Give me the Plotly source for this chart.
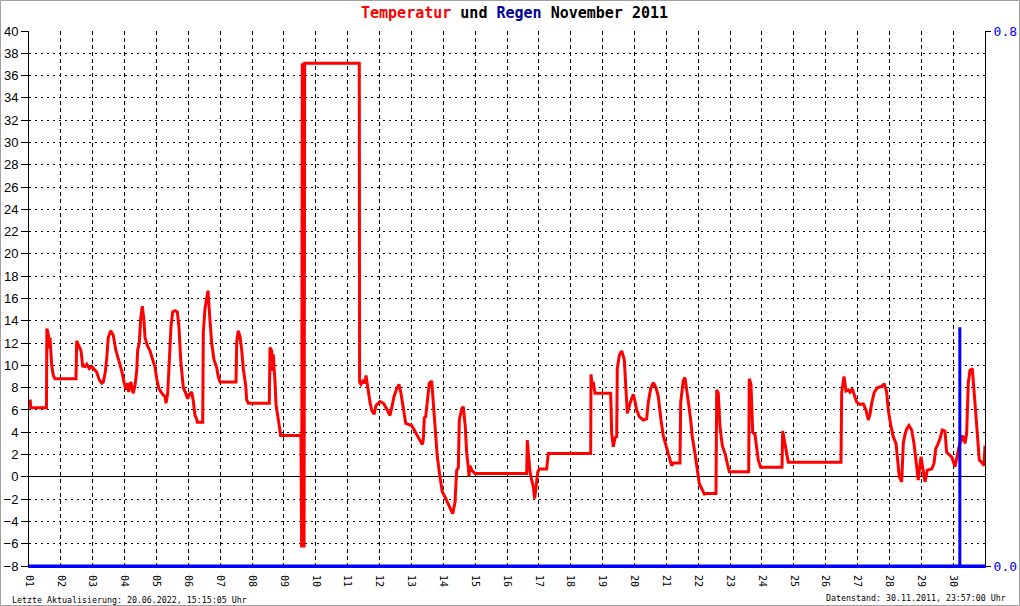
import plotly.graph_objects as go

# ---------------- data ----------------
temp_days = [1.000, 1.040, 1.055, 1.548, 1.560, 1.606, 1.637, 1.659, 1.712, 1.763, 1.816, 2.475, 2.497, 2.569, 2.632,
             2.685, 2.757, 2.811, 2.892, 2.968, 3.049, 3.124, 3.206, 3.281, 3.332, 3.394, 3.438, 3.488, 3.564, 3.645,
             3.721, 3.815, 3.909, 3.981, 4.044, 4.097, 4.129, 4.169, 4.201, 4.242, 4.273, 4.326, 4.380, 4.411, 4.461,
             4.505, 4.555, 4.609, 4.640, 4.712, 4.797, 4.882, 4.954, 5.007, 5.079, 5.183, 5.268, 5.299, 5.352, 5.393,
             5.425, 5.456, 5.509, 5.581, 5.654, 5.707, 5.760, 5.792, 5.842, 5.905, 5.980, 6.030, 6.106, 6.156, 6.209,
             6.262, 6.281, 6.451, 6.470, 6.523, 6.617, 6.680, 6.733, 6.805, 6.890, 6.940, 6.994, 7.496, 7.518, 7.568,
             7.621, 7.675, 7.725, 7.800, 7.831, 7.882, 8.541, 8.563, 8.616, 8.647, 8.666, 8.720, 8.751, 8.804, 8.855,
             8.898, 9.535, 9.556, 9.575, 9.594, 9.613, 9.632, 9.651, 11.365, 11.374, 11.418, 11.481, 11.544, 11.575,
             11.616, 11.647,
             11.701, 11.754, 11.804, 11.836, 11.889, 12.014, 12.118, 12.225, 12.328, 12.382, 12.454, 12.539, 12.611,
             12.673, 12.746, 12.821, 13.009, 13.091, 13.185, 13.270, 13.342, 13.373, 13.405, 13.449, 13.511, 13.562,
             13.637, 13.687, 13.741, 13.813, 13.897, 13.969, 14.054, 14.158, 14.296, 14.368, 14.421, 14.472, 14.503,
             14.578, 14.628, 14.691, 14.735, 14.785, 14.807, 14.839, 14.892, 14.995, 16.618, 16.637, 16.681, 16.721,
             16.775, 16.825, 16.869, 16.910, 16.963, 17.013, 17.246, 17.296, 18.626, 18.636, 18.677, 18.708, 18.761,
             19.254, 19.285, 19.336, 19.389, 19.442, 19.461, 19.524, 19.599, 19.681, 19.725, 19.775, 19.860, 19.963,
             20.016, 20.070, 20.151, 20.277, 20.383, 20.434, 20.509, 20.591, 20.675, 20.748, 20.832, 20.904, 20.989,
             21.093, 21.168, 21.218, 21.428, 21.451, 21.532, 21.585, 21.639, 21.711, 21.764, 21.815, 21.899, 21.971,
             22.034, 22.110, 22.191, 22.266, 22.558, 22.580, 22.630, 22.684, 22.756, 22.841, 22.913, 22.976, 23.584,
             23.603, 23.657, 23.710, 23.782, 23.835, 23.885, 23.961, 24.629, 24.651, 24.702, 24.755, 24.827, 26.481,
             26.503, 26.575, 26.638, 26.710, 26.763, 26.836, 26.898, 26.973, 27.077, 27.181, 27.265, 27.338, 27.391,
             27.444, 27.526, 27.632, 27.758, 27.839, 27.915, 27.965, 28.040, 28.122, 28.207, 28.247, 28.310, 28.386,
             28.436, 28.489, 28.542, 28.614, 28.700, 28.771, 28.834, 28.906, 28.991, 29.044, 29.117, 29.189, 29.327,
             29.399, 29.452, 29.515, 29.587, 29.659, 29.744, 29.797, 29.879, 29.954, 30.058, 30.111, 30.193, 30.300,
             30.372, 30.425, 30.475, 30.529, 30.601, 30.654, 30.708, 30.771, 30.821, 30.896, 30.968, 31.000]

temp_vals = [6.8, 6.8, 6.2, 6.2, 13.3, 12.8, 11.5, 12.5, 10.0, 9.1, 8.8, 8.8, 12.2, 11.7, 11.3,
             9.95, 9.9, 10.1, 9.7, 9.9, 9.6, 9.4, 8.7, 8.4, 8.5, 9.4, 10.6, 12.5, 13.1, 12.7,
             11.4, 10.5, 9.5, 8.5, 7.8, 8.4, 7.6, 8.3, 8.5, 7.8, 7.5, 8.2, 9.5, 11.4, 12.0,
             14.2, 15.3, 14.0, 12.5, 11.8, 11.3, 10.5, 9.85, 8.8, 7.9, 7.45, 7.2, 6.6, 7.5, 9.8,
             12.5, 13.5, 14.8, 14.9, 14.8, 13.4, 10.5, 9.5, 8.0, 7.6, 7.0, 7.4, 7.6, 6.8, 5.5,
             5.2, 4.9, 4.9, 13.0, 15.1, 16.7, 14.0, 12.0, 10.5, 9.8, 9.0, 8.5, 8.5, 12.1, 13.1,
             12.6, 11.35, 9.7, 8.2, 6.9, 6.6, 6.6, 11.6, 11.3, 9.5, 11.0, 8.5, 6.5, 5.5, 4.7,
             3.7, 3.7, -6.35, 37.1, -6.35, 37.1, -6.35, 37.1, 37.1, 8.5, 8.3, 8.6, 8.4, 9.1,
             8.2, 7.5,
             6.7, 6.0, 5.7, 5.7, 6.4, 6.75, 6.6, 6.1, 5.5, 6.2, 7.2, 7.9, 8.3,
             7.5, 6.0, 4.8, 4.6, 4.2, 3.7, 3.3, 2.9, 3.3, 5.3, 5.4, 7.3, 8.4,
             8.6, 6.6, 3.9, 1.8, 0.0, -1.35, -1.8, -2.4, -3.3, -2.3, 0.6, 0.8, 5.1,
             6.1, 6.3, 4.5, 2.1, 0.9, 0.05, 1.0, 0.6, 0.3, 0.3, 3.3, 2.0, 0.45,
             -0.3, -0.9, -1.95, -1.0, 0.4, 0.7, 0.7, 2.1, 2.1, 9.2, 8.0, 8.5, 7.5,
             7.5, 3.9, 2.7, 3.5, 3.6, 9.7, 10.9, 11.3, 10.5, 8.0, 5.7, 6.6, 7.4,
             6.8, 6.0, 5.4, 5.1, 5.2, 6.7, 7.9, 8.45, 8.0, 7.2, 5.1, 3.7, 2.8,
             1.6, 1.0, 1.25, 1.25, 6.7, 8.65, 8.9, 7.9, 6.3, 5.1, 3.6, 2.1, 0.6,
             -0.6, -1.05, -1.55, -1.5, -1.5, 7.8, 7.5, 4.5, 2.8, 2.1, 1.2, 0.45, 0.45,
             8.8, 8.3, 4.0, 3.8, 2.5, 1.5, 0.85, 0.85, 4.1, 3.3, 2.3, 1.3, 1.3,
             7.6, 9.0, 7.7, 7.8, 7.6, 7.9, 7.4, 6.7, 6.5, 6.55, 6.0, 5.1, 5.6,
             6.6, 7.6, 8.0, 8.1, 8.35, 7.6, 6.0, 4.7, 3.6, 3.0, 1.5, 0.0, -0.45,
             3.0, 3.8, 4.3, 4.6, 4.2, 3.0, 1.2, -0.3, 1.8, 1.0, -0.45, 0.6, 0.7,
             1.2, 2.5, 2.9, 3.4, 4.2, 4.1, 2.2, 2.0, 1.8, 0.9, 1.7, 2.8, 3.7,
             3.0, 3.9, 8.4, 9.55, 9.7, 7.8, 5.7, 3.0, 1.5, 1.3, 1.0, 2.8]

rain_days = [1.0, 30.21, 30.21, 30.21, 31.0]
rain_mm = [0.0, 0.0, 0.357, 0.0, 0.0]

day_ticks = list(range(1, 31))
day_labels = ["01", "02", "03", "04", "05", "06", "07", "08", "09", "10",
              "11", "12", "13", "14", "15", "16", "17", "18", "19", "20",
              "21", "22", "23", "24", "25", "26", "27", "28", "29", "30"]
rain_ticks = [0.0, 0.8]
rain_labels = ["0.0", "0.8"]

title_html = ("<span style='color:#ff0000'>Temperatur</span> und "
              "<span style='color:#00009c'>Regen</span> November 2011")
note_left = "Letzte Aktualisierung: 20.06.2022, 15:15:05 Uhr"
note_right = "Datenstand: 30.11.2011, 23:57:00 Uhr"

MONO = "DejaVu Sans Mono"
SANS = "Liberation Sans, Arial, sans-serif"

W, H = 1020, 606
ML, MR, MT, MB = 29, 35, 31, 40
PW, PH = W - ML - MR, H - MT - MB

fig = go.Figure()
fig.add_trace(go.Scatter(x=temp_days, y=temp_vals, mode="lines",
                         line=dict(color="#ff0000", width=3), hoverinfo="skip"))
fig.add_trace(go.Scatter(x=rain_days, y=rain_mm, mode="lines", yaxis="y2",
                         line=dict(color="#0000ff", width=3), hoverinfo="skip"))

fig.update_layout(
    width=W, height=H, autosize=False,
    margin=dict(l=ML, r=MR, t=MT, b=MB, pad=0),
    paper_bgcolor="white", plot_bgcolor="white",
    showlegend=False,
    xaxis=dict(range=[1, 31], tickvals=day_ticks, ticktext=day_labels, tickangle=90,
               tickfont=dict(family=MONO, size=10, color="black"),
               showgrid=True, gridcolor="black", gridwidth=1, griddash="4px,3px",
               showline=True, linecolor="#0000ff", linewidth=2,
               ticks="", zeroline=False, ticklabelstandoff=5, fixedrange=True,
               automargin=False),
    yaxis=dict(range=[-8, 40], tick0=-8, dtick=2,
               tickfont=dict(family=SANS, size=13, color="black"),
               showgrid=True, gridcolor="black", gridwidth=1, griddash="2px,4px",
               zeroline=True, zerolinecolor="black", zerolinewidth=1,
               showline=True, linecolor="black", linewidth=1,
               ticks="outside", ticklen=7, tickcolor="black", tickwidth=1,
               automargin=False, fixedrange=True),
    yaxis2=dict(overlaying="y", side="right", range=[0, 0.8],
                tickvals=rain_ticks, ticktext=rain_labels,
                tickfont=dict(family=MONO, size=13, color="#0000ff"),
                showgrid=False, zeroline=False,
                showline=True, linecolor="black", linewidth=1,
                ticks="outside", ticklen=5, tickcolor="black",
                automargin=False, fixedrange=True),
    yaxis3=dict(overlaying="y", side="left", anchor="x", range=[-8, 40], tick0=-8, dtick=2,
                ticks="inside", ticklen=4, tickcolor="black", showticklabels=False,
                showgrid=False, zeroline=False, showline=False,
                automargin=False, fixedrange=True),
)

fig.add_annotation(text="<b>" + title_html + "</b>", xref="paper", yref="paper",
                   x=(514.5 - ML) / PW, y=(H - MB - 13) / PH, xanchor="center", yanchor="middle",
                   showarrow=False, font=dict(family=MONO, size=15, color="black"))
fig.add_annotation(text=note_left, xref="paper", yref="paper",
                   x=(10 - ML) / PW, y=(H - MB - 599.5) / PH, xanchor="left", yanchor="middle",
                   showarrow=False, font=dict(family=MONO, size=8.3, color="black"))
fig.add_annotation(text=note_right, xref="paper", yref="paper",
                   x=(1008 - ML) / PW, y=(H - MB - 598) / PH, xanchor="right", yanchor="middle",
                   showarrow=False, font=dict(family=MONO, size=8.3, color="black"))

# thin grey frame round the whole image
fig.add_shape(type="rect", xref="paper", yref="paper",
              x0=(0.5 - ML) / PW, x1=(W - 0.5 - ML) / PW,
              y0=(H - MB - (H - 0.5)) / PH, y1=(H - MB - 0.5) / PH,
              line=dict(color="#a0a0a0", width=1), layer="above")

# remove the browser's default body margin so the 1020x606 figure fills the window
fig.write_html("out.html",
               config={"displayModeBar": False, "staticPlot": True},
               post_script="document.body.style.margin='0';document.body.style.overflow='hidden';")
